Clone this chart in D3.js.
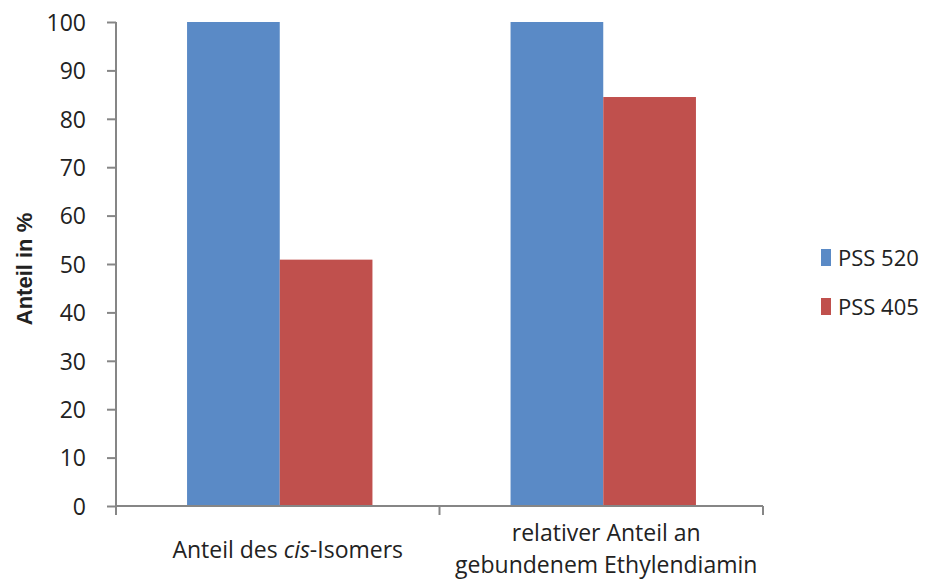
<!DOCTYPE html>
<html><head><meta charset="utf-8">
<script src="https://cdn.jsdelivr.net/npm/d3@7/dist/d3.min.js"></script>
<style>body{margin:0;background:#fff}svg{display:block}text{fill:#222}</style>
</head><body><svg id="c" width="925" height="583"></svg>
<script>
const categories = [["Anteil des ", "cis", "-Isomers"], ["relativer Anteil an", "gebundenem Ethylendiamin"]];
const seriesNames = ["PSS 520", "PSS 405"];
const pss520 = [100, 100];
const pss405 = [50.9, 84.5];
const yTicks = [0,10,20,30,40,50,60,70,80,90,100];
const colors = ["#5A8AC6", "#C0504D"];
const FONT = '"Open Sans",sans-serif';

const svg = d3.select("#c");
const pLeft = 116, pRight = 763, pTop = 22, pBottom = 506;
const x0 = d3.scaleBand().domain([0,1]).range([pLeft, pRight]).paddingInner(0).paddingOuter(0);
const y = d3.scaleLinear().domain([0,100]).range([pBottom, pTop]);
const x1 = d3.scaleBand().domain([0,1]).range([0, x0.bandwidth()]).paddingInner(0).paddingOuter(0.745);

const data = [pss520, pss405];
const g = svg.append("g");
data.forEach((vals, si) => {
  g.selectAll(null).data(vals).enter().append("rect")
    .attr("x", (d,i) => x0(i) + x1(si) + 2)
    .attr("y", d => y(d))
    .attr("width", x1.bandwidth())
    .attr("height", d => pBottom - y(d))
    .attr("fill", colors[si]);
});

// y axis
const ya = svg.append("g").attr("transform", `translate(${pLeft},0)`)
  .call(d3.axisLeft(y).tickValues(yTicks).tickSize(9).tickPadding(21).tickSizeOuter(0));
ya.select(".domain").attr("stroke", "#868686").attr("stroke-width", 2).attr("d", `M0,${pTop}V${pBottom}`);
ya.selectAll(".tick line").attr("stroke", "#868686").attr("stroke-width", 2);
ya.selectAll(".tick text").attr("font-size", 23).attr("font-family", FONT).attr("fill", "#222").attr("dy", "0.36em");

// x axis
const xa = svg.append("g").attr("transform", `translate(0,${pBottom})`);
xa.append("line").attr("x1", pLeft).attr("x2", pRight).attr("y1", 0).attr("y2", 0).attr("stroke", "#868686").attr("stroke-width", 2);
[pLeft, x0(1), pRight].forEach(v => xa.append("line").attr("x1", v).attr("x2", v).attr("y1", 0).attr("y2", 9).attr("stroke", "#868686").attr("stroke-width", 2));

// category labels
const c0 = x0(0) + x0.bandwidth()/2, c1 = x0(1) + x0.bandwidth()/2;
const t0 = svg.append("text").attr("x", c0 + 10).attr("y", 558).attr("text-anchor", "middle").attr("font-family", FONT).attr("font-size", 23);
t0.append("tspan").text(categories[0][0]);
t0.append("tspan").attr("font-style", "italic").text(categories[0][1]);
t0.append("tspan").text(categories[0][2]);
svg.append("text").attr("x", c1 + 5).attr("y", 541).attr("text-anchor", "middle").attr("font-family", FONT).attr("font-size", 23).text(categories[1][0]);
svg.append("text").attr("x", c1 + 5).attr("y", 573).attr("text-anchor", "middle").attr("font-family", FONT).attr("font-size", 23).text(categories[1][1]);

// y title
svg.append("text").attr("transform", "translate(32,269) rotate(-90)").attr("text-anchor", "middle")
  .attr("font-family", '"Liberation Sans",Arial,sans-serif')
  .attr("font-size", 22).attr("font-weight", "bold").text("Anteil in %");

// legend
seriesNames.forEach((n, i) => {
  const ly = 249 + i * 49;
  svg.append("rect").attr("x", 821).attr("y", ly).attr("width", 10).attr("height", 17).attr("fill", colors[i]);
  svg.append("text").attr("x", 838).attr("y", ly + 17).attr("font-family", FONT).attr("font-size", 22).text(n);
});
</script></body></html>
